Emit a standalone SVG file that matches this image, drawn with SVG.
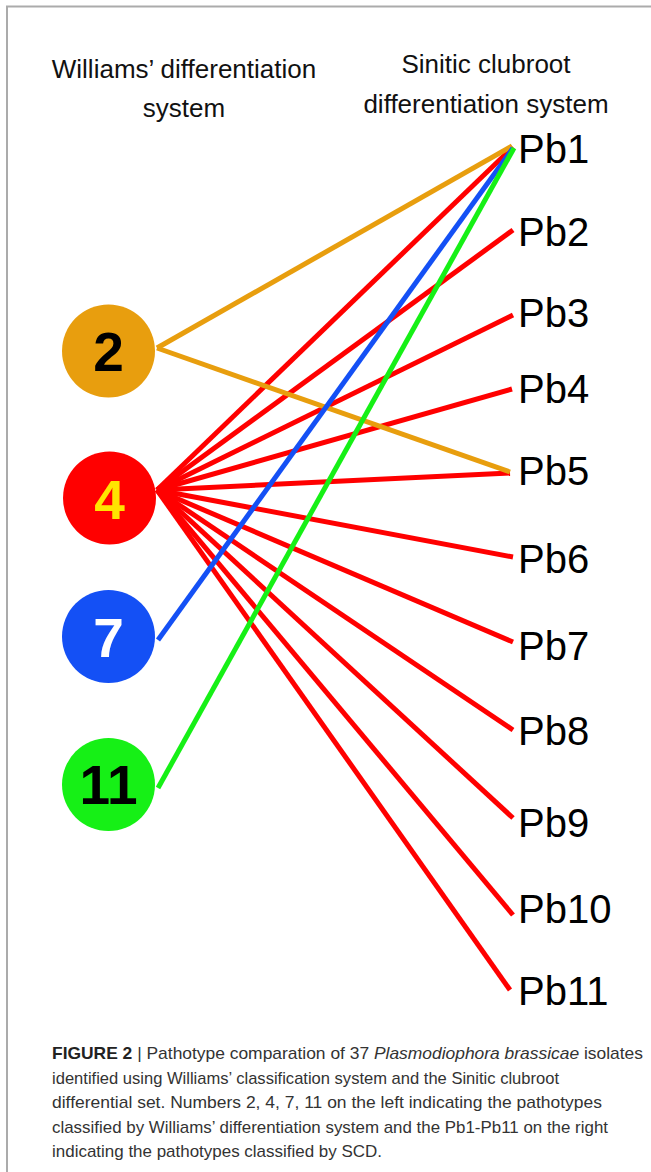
<svg xmlns="http://www.w3.org/2000/svg" width="651" height="1172" viewBox="0 0 651 1172">
<style>
.hdr{font-family:"Liberation Sans",Arial,sans-serif;font-size:26px;fill:#111;text-anchor:middle}
.pb{font-family:"Liberation Sans",Arial,sans-serif;font-size:40px;fill:#000}
.num{font-family:"Liberation Sans",Arial,sans-serif;font-size:55px;font-weight:bold;text-anchor:middle}
.cap{font-family:"Liberation Sans",Arial,sans-serif;font-size:17px;fill:#333}
.ln{stroke-width:5;fill:none;stroke-linecap:butt}
.r{stroke:#FF0000}.o{stroke:#E89E0E}.b{stroke:#1450F5}.g{stroke:#16F016}
</style>
<rect width="651" height="1172" fill="#fff"/>
<path d="M7 1172 V6.5 H651" fill="none" stroke="#ababab" stroke-width="2"/>
<g id="headers">
<text class="hdr" x="184" y="78">Williams’ differentiation</text>
<text class="hdr" x="184" y="117">system</text>
<text class="hdr" x="486" y="73">Sinitic clubroot</text>
<text class="hdr" x="486" y="113">differentiation system</text>
</g>
<g id="connectors">
<line class="ln r" x1="157" y1="490" x2="513" y2="147"/>
<line class="ln r" x1="157" y1="490" x2="513" y2="230"/>
<line class="ln r" x1="157" y1="490" x2="513" y2="315"/>
<line class="ln r" x1="157" y1="490" x2="512" y2="389"/>
<line class="ln r" x1="157" y1="490" x2="510" y2="473"/>
<line class="ln r" x1="157" y1="490" x2="513" y2="557"/>
<line class="ln r" x1="157" y1="490" x2="513" y2="642"/>
<line class="ln r" x1="157" y1="490" x2="513" y2="730"/>
<line class="ln r" x1="157" y1="490" x2="513" y2="818"/>
<line class="ln r" x1="157" y1="490" x2="513" y2="915"/>
<line class="ln r" x1="157" y1="490" x2="510" y2="990"/>
<line class="ln o" x1="157" y1="348" x2="512" y2="146"/>
<line class="ln o" x1="157" y1="348" x2="510" y2="472"/>
<line class="ln b" x1="158" y1="640" x2="513" y2="148"/>
<line class="ln g" x1="158" y1="788" x2="514" y2="148"/>
</g>
<g id="node-2"><circle cx="108.5" cy="351" r="46.5" fill="#E89E0E"/><text class="num" x="108.5" y="371" fill="#000">2</text></g>
<g id="node-4"><circle cx="109.5" cy="498" r="46.5" fill="#FF0000"/><text class="num" x="109.5" y="519" fill="#FFE400">4</text></g>
<g id="node-7"><circle cx="108.5" cy="636.5" r="46.5" fill="#1450F5"/><text class="num" x="108.5" y="657" fill="#fff">7</text></g>
<g id="node-11"><circle cx="108.5" cy="784.5" r="46.5" fill="#16F016"/><text class="num" x="108.5" y="804" fill="#000">11</text></g>
<g id="node-pb1"><text class="pb" x="518" y="163">Pb1</text></g>
<g id="node-pb2"><text class="pb" x="518" y="246">Pb2</text></g>
<g id="node-pb3"><text class="pb" x="518" y="327">Pb3</text></g>
<g id="node-pb4"><text class="pb" x="518" y="403">Pb4</text></g>
<g id="node-pb5"><text class="pb" x="518" y="485">Pb5</text></g>
<g id="node-pb6"><text class="pb" x="518" y="573">Pb6</text></g>
<g id="node-pb7"><text class="pb" x="518" y="660">Pb7</text></g>
<g id="node-pb8"><text class="pb" x="518" y="745">Pb8</text></g>
<g id="node-pb9"><text class="pb" x="518" y="837">Pb9</text></g>
<g id="node-pb10"><text class="pb" x="518" y="923">Pb10</text></g>
<g id="node-pb11"><text class="pb" x="518" y="1005">Pb11</text></g>
<g id="caption">
<text class="cap" x="52" y="1059" textLength="591" lengthAdjust="spacingAndGlyphs"><tspan font-weight="bold" fill="#222">FIGURE 2</tspan> | Pathotype comparation of 37 <tspan font-style="italic">Plasmodiophora brassicae</tspan> isolates</text>
<text class="cap" x="52" y="1084" textLength="507" lengthAdjust="spacingAndGlyphs">identified using Williams’ classification system and the Sinitic clubroot</text>
<text class="cap" x="52" y="1108" textLength="550" lengthAdjust="spacingAndGlyphs">differential set. Numbers 2, 4, 7, 11 on the left indicating the pathotypes</text>
<text class="cap" x="52" y="1133" textLength="556" lengthAdjust="spacingAndGlyphs">classified by Williams’ differentiation system and the Pb1-Pb11 on the right</text>
<text class="cap" x="52" y="1157" textLength="330" lengthAdjust="spacingAndGlyphs">indicating the pathotypes classified by SCD.</text>
</g>
</svg>
